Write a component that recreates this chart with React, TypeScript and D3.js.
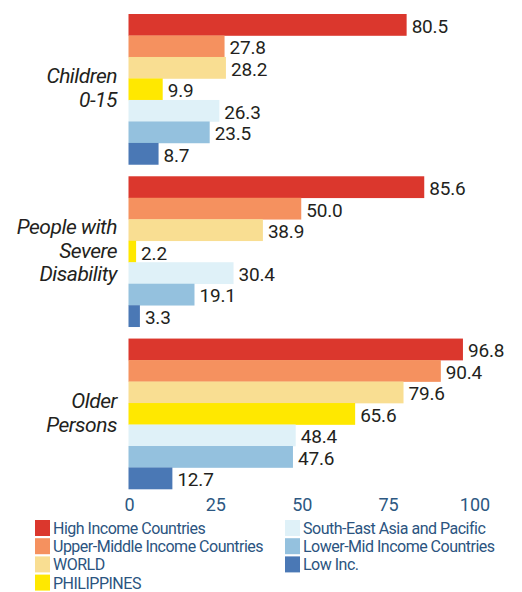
import React from "react";
import * as d3 from "d3";

const groups = ["Children\n0-15", "People with\nSevere\nDisability", "Older\nPersons"];
const series = [
  "High Income Countries",
  "Upper-Middle Income Countries",
  "WORLD",
  "PHILIPPINES",
  "South-East Asia and Pacific",
  "Lower-Mid Income Countries",
  "Low Inc.",
];
const colors = ["#DB372D", "#F5915F", "#F9DE92", "#FFE800", "#DFF1F8", "#94C1DE", "#4A78B5"];
const values = [
  [80.5, 27.8, 28.2, 9.9, 26.3, 23.5, 8.7],
  [85.6, 50.0, 38.9, 2.2, 30.4, 19.1, 3.3],
  [96.8, 90.4, 79.6, 65.6, 48.4, 47.6, 12.7],
];
const ticks = [0, 25, 50, 75, 100];
const legendCol1 = [0, 1, 2, 3];
const legendCol2 = [4, 5, 6];

export default function App() {
  const W = 522, H = 592;
  const x = d3.scaleLinear().domain([0, 100]).range([128.5, 474]);
  const gy = d3.scaleBand<number>().domain([0, 1, 2]).range([14, 489]).paddingInner(0.073).paddingOuter(0);
  const sy = d3.scaleBand<number>().domain(d3.range(7)).range([0, gy.bandwidth()]).padding(0);
  const textFont = "Roboto, 'Open Sans', sans-serif";
  const lh = 23.5;
  return (
    <svg width={W} height={H} style={{ position: "absolute", left: 0, top: 0 }} fontFamily={textFont}>
      <rect width={W} height={H} fill="#fff" />
      {values.map((vals, gi) => {
        const g0 = gy(gi)!;
        const center = g0 + gy.bandwidth() / 2;
        const lines = groups[gi].split("\n");
        return (
          <g key={gi}>
            {vals.map((v, si) => {
              const y0 = g0 + sy(si)!;
              return (
                <g key={si}>
                  <rect x={x(0)} y={y0} width={x(v) - x(0)} height={sy.bandwidth() + 0.3} fill={colors[si]} />
                  <text x={x(v) + 5} y={y0 + sy.bandwidth() / 2 + 8} fontSize={19} fill="#231F20" letterSpacing={-0.2}>
                    {v.toFixed(1)}
                  </text>
                </g>
              );
            })}
            {lines.map((ln, li) => (
              <text
                key={li}
                x={117}
                y={center + 6 - ((lines.length - 1) * lh) / 2 + li * lh}
                textAnchor="end"
                fontStyle="italic"
                fontSize={21}
                letterSpacing={-0.5}
                fill="#231F20"
              >
                {ln}
              </text>
            ))}
          </g>
        );
      })}
      {ticks.map((t) => (
        <text key={t} x={x(t) + 1} y={511} textAnchor="middle" fontSize={18} fill="#2D5882">
          {t}
        </text>
      ))}
      {[legendCol1, legendCol2].map((col, ci) =>
        col.map((si, ri) => {
          const lx = ci === 0 ? 35 : 285;
          const ly = 520 + ri * 18.2;
          return (
            <g key={si}>
              <rect x={lx} y={ly} width={15} height={16} fill={colors[si]} />
              <text x={lx + 18} y={ly + 14} fontSize={16} letterSpacing={-0.5} fill="#2B5480">
                {series[si]}
              </text>
            </g>
          );
        })
      )}
    </svg>
  );
}
